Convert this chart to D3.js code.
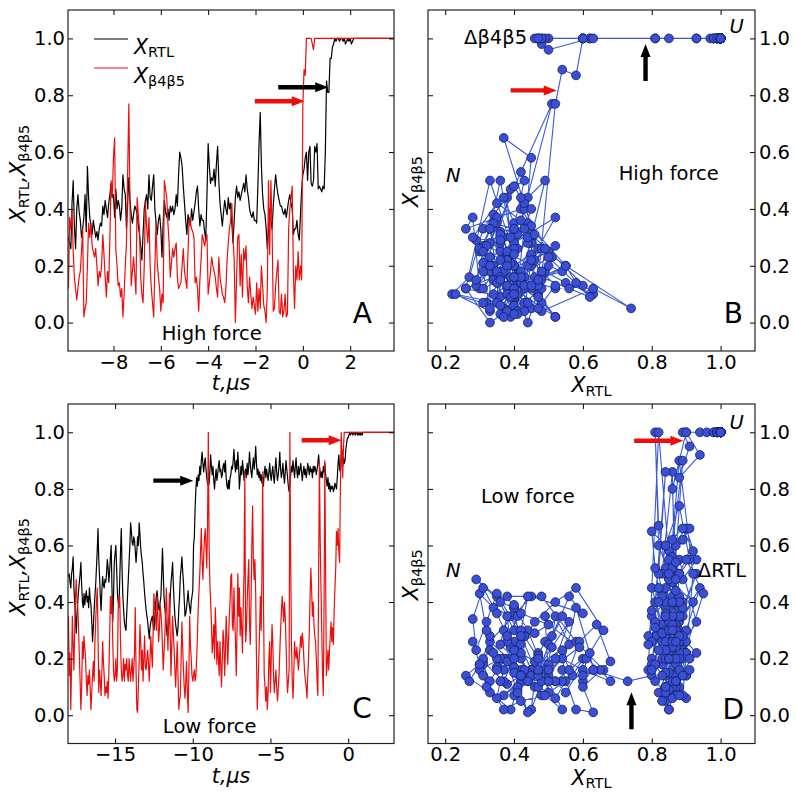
<!DOCTYPE html>
<html><head><meta charset="utf-8">
<script src="https://cdn.jsdelivr.net/npm/d3@7"></script>
<style>body{margin:0;background:#fff}svg{display:block}</style>
</head><body><svg id="c" width="796" height="792"></svg>
<script>
// ---------------- data ----------------
const dt = 0.05;
const tStartHigh = -9.9;   // high-force trajectory (panels A,B)
const tStartLow = -18.0;   // low-force trajectory (panels C,D)

const rtlHigh = [
.30,.28,.26,.42,.50,.34,.26,.40,.45,.39,.36,.30,.33,.37,.45,.32,.55,.44,.37,.34,
.31,.36,.33,.30,.32,.29,.33,.35,.34,.41,.38,.43,.40,.37,.42,.45,.49,.44,.45,.37,
.47,.40,.43,.41,.36,.40,.52,.47,.45,.33,.42,.51,.43,.38,.35,.38,.41,.40,.38,.34,
.31,.27,.22,.31,.40,.43,.45,.40,.52,.44,.43,.48,.52,.40,.35,.31,.36,.38,.33,.23,
.35,.43,.39,.37,.40,.36,.41,.39,.41,.38,.40,.45,.41,.52,.60,.58,.55,.48,.42,.36,
.31,.38,.35,.34,.40,.36,.39,.42,.46,.48,.40,.34,.38,.36,.36,.32,.29,.45,.63,.55,
.49,.51,.50,.54,.48,.56,.62,.50,.42,.38,.34,.39,.43,.40,.38,.44,.40,.42,.35,.28,
.36,.44,.48,.44,.46,.43,.45,.47,.49,.46,.52,.47,.44,.40,.38,.37,.39,.36,.36,.35,
.48,.63,.74,.55,.45,.40,.38,.33,.26,.33,.40,.36,.33,.41,.47,.52,.48,.45,.43,.41,
.41,.39,.38,.40,.37,.40,.43,.45,.42,.40,.31,.33,.33,.36,.31,.29,.38,.47,
.52,.54,.58,.60,.50,.60,.62,.49,.48,.50,.62,.60,.63,.47,.48,.47,.46,.48,.47,.60,
.85,.81,.81,.93,.93,.97,.98,1,.99,1,1,.99,1,1,.99,1,.98,.99,1,.99,
1,.98,.99,1,1,1,1,1,1,1,1,1,1,1,1,1,1,1,1,1,
1,1,1,1,1,1,1,1,1,1,1,1,1,1,1,1,1,1
];
const b45High = [
.12,.37,.33,.40,.25,.16,.12,.08,.12,.16,.18,.25,.33,.02,.05,.07,.20,.35,.30,.35,
.27,.25,.23,.26,.20,.13,.18,.16,.20,.31,.24,.16,.09,.18,.14,.30,.50,.44,.58,.65,
.26,.20,.13,.14,.09,.12,.02,.10,.20,.28,.53,.77,.40,.13,.18,.23,.17,.10,.44,.38,
.33,.16,.10,.07,.20,.42,.34,.28,.37,.20,.12,.07,.02,.20,.35,.21,.16,.12,.04,.10,
.07,.50,.47,.44,.35,.28,.16,.21,.26,.23,.26,.28,.16,.12,.13,.14,.20,.26,.18,.15,
.12,.25,.37,.35,.33,.32,.30,.14,.16,.12,.04,.15,.22,.31,.29,.27,.29,.31,.10,.14,
.18,.23,.20,.18,.16,.12,.09,.23,.16,.13,.10,.09,.07,.12,.22,.28,.33,.36,.42,.30,
.22,.00,.15,.30,.31,.13,.24,.09,.26,.22,.27,.13,.07,.16,.10,.05,.09,.06,.03,.14,
.04,.12,.05,.20,.13,.06,.04,.00,.12,.50,.24,.50,.33,.04,.05,.13,.18,.22,.04,.03,
.10,.02,.04,.10,.02,.03,.33,.40,.44,.48,.18,.05,.20,.15,.25,.15,.20,.15,
.77,.89,.87,1,1,1,1,1,.98,.96,1,1,1,1,1,1,1,1,1,1,
1,1,1,1,1,1,1,1,1,1,1,1,1,1,1,1,1,1,1,1,
1,1,1,1,1,1,1,1,1,1,1,1,1,1,1,1,1,1,1,1,
1,1,1,1,1,1,1,1,1,1,1,1,1,1,1,1,1,1
];
const rtlLow = [
.49,.50,.47,.45,.50,.52,.56,.45,.40,.35,.29,.36,.40,.44,.47,.50,.54,.46,.40,.38,
.43,.39,.42,.44,.40,.42,.38,.45,.41,.39,.33,.26,.31,.37,.42,.46,.52,.58,.66,.55,
.49,.42,.37,.44,.49,.46,.45,.48,.47,.50,.55,.52,.47,.51,.56,.60,.45,.33,.42,.54,
.57,.60,.52,.43,.40,.38,.48,.58,.66,.52,.42,.37,.33,.31,.30,.36,.42,.48,.54,.60,
.68,.65,.61,.60,.63,.62,.58,.54,.58,.63,.60,.68,.64,.59,.56,.54,.50,.47,.43,.40,
.37,.35,.33,.30,.27,.31,.33,.34,.35,.32,.30,.34,.39,.42,.44,.41,.38,.37,.40,.42,
.50,.59,.50,.42,.38,.35,.31,.28,.29,.32,.35,.42,.47,.50,.54,.46,.40,.35,.32,.30,
.28,.31,.37,.42,.49,.52,.56,.51,.47,.41,.35,.36,.38,.41,.44,.40,.38,.36,.40,.42,
.44,.60,.63,.73,.80,.84,.81,.85,.83,.88,.85,.90,.93,.89,.86,.89,.91,.87,.84,.82,
.81,.82,.86,.92,.88,.85,.88,.83,.80,.84,.87,.83,.85,.88,.90,.86,.87,.84,.85,.88,
.89,.86,.90,.84,.81,.80,.83,.80,.84,.85,.88,.87,.90,.94,.89,.86,.90,.87,.93,.88,
.80,.84,.88,.85,.90,.87,.83,.86,.87,.84,.89,.85,.88,.93,.89,.86,.84,.88,.91,.87,
.90,.95,.89,.85,.87,.84,.86,.83,.85,.82,.84,.81,.86,.88,.84,.87,.85,.83,.86,.89,
.85,.83,.86,.88,.84,.82,.87,.91,.86,.83,.85,.88,.93,.87,.84,.86,.89,.85,.82,.86,
.90,.87,.84,.81,.79,.82,.85,.88,.86,.90,.87,.84,.88,.91,.86,.84,.88,.85,.87,.89,
.86,.83,.86,.88,.85,.87,.84,.86,.89,.87,.85,.88,.86,.87,.84,.88,.86,.88,.87,.85,
.87,.89,.92,.88,.86,.84,.86,.84,.88,.86,.89,.85,.83,.81,.84,.80,.82,.79,.81,.80,
.81,.79,.80,.82,.81,.80,.84,.89,.92,.87,.86,.90,.94,.88,.91,.89,.90,.94,.96,.98,
.98,.99,1,.99,1,1,.99,1,1,.99,1,1,.99,1,.99,1,.99,1,.99,1,
1,1,1,1,1,1,1,1,1,1,1,1,1,1,1,1,1,1,1,1,
1,1,1,1,1,1,1,1,1,1,1,1,1,1,1,1,1,1,1,1
];
const b45Low = [
.35,.14,.22,.02,.18,.35,.25,.16,.30,.42,.48,.40,.38,.30,.21,.12,.02,.10,.26,.20,
.28,.24,.20,.12,.07,.14,.11,.16,.09,.02,.08,.14,.19,.12,.25,.33,.40,.45,.30,.08,
.16,.12,.07,.15,.26,.19,.14,.07,.10,.08,.12,.06,.15,.28,.42,.36,.42,.26,.16,.12,
.14,.20,.12,.16,.38,.42,.42,.26,.16,.12,.14,.20,.12,.18,.16,.20,.14,.12,.20,.16,
.12,.16,.20,.12,.16,.22,.38,.16,.02,.01,.10,.19,.32,.26,.16,.23,.12,.20,.28,.17,
.16,.20,.23,.18,.12,.20,.28,.22,.17,.30,.43,.38,.35,.30,.42,.35,.26,.30,.39,.36,
.32,.24,.16,.22,.28,.36,.45,.34,.23,.33,.43,.28,.14,.25,.35,.29,.23,.16,.10,.18,
.26,.14,.02,.05,.07,.20,.33,.24,.16,.10,.06,.12,.19,.08,.01,.15,.35,.25,.20,.14,
.12,.14,.16,.12,.14,.20,.28,.38,.44,.50,.58,.66,.55,.48,.56,.62,.66,.60,.52,.67,
1,.60,.47,.40,.33,.22,.26,.32,.20,.38,.30,.18,.26,.20,.14,.26,.18,.10,.20,.30,
.26,.14,.22,.35,.28,.18,.26,.35,.40,.49,.50,.32,.30,.45,.35,.26,.14,.30,.50,.35,
.45,.28,.38,.30,.22,.40,.50,.86,.26,.30,.40,.48,.55,.33,.25,.40,.60,.74,.55,.48,
.55,.43,.20,.02,.10,.20,.30,.42,.30,.50,.86,.40,.14,.10,.05,.10,.02,.08,.20,.26,
.08,.20,.32,.26,.14,.08,.12,.16,.10,.05,.09,.14,.22,.30,.36,.42,.38,.33,.40,.35,
.26,.15,.08,.12,.16,1,.55,.26,.12,.06,.14,.26,.22,.20,.24,.20,.16,.20,.24,.28,
.24,.29,.26,.20,.15,.12,.10,.06,.14,.20,.30,.42,.52,.44,.35,.40,.32,.28,.26,.20,
.12,.07,.50,.90,.62,.45,.30,.15,.07,.40,.90,.50,.14,.18,.23,.16,.23,.28,.33,.26,
.31,.25,.37,.45,.52,.65,.60,.66,.58,.54,.80,1,.92,.84,.95,1,1,1,1,1,
1,1,1,1,1,1,1,1,1,1,1,1,1,1,1,1,1,1,1,1,
1,1,1,1,1,1,1,1,1,1,1,1,1,1,1,1,1,1,1,1,
1,1,1,1,1,1,1,1,1,1,1,1,1,1,1,1,1,1,1,1
];

const tTicksHigh = [-8,-6,-4,-2,0,2];
const tTicksLow = [-15,-10,-5,0];
const xTicksScatter = [0.2,0.4,0.6,0.8,1.0];
const yTicks = [0,0.2,0.4,0.6,0.8,1.0];

// annotation arrows (data coordinates of each panel)
const arrowsA = [{x1:-2.03,y1:0.779,x2:0.08,y2:0.779,c:"red"},{x1:-1.04,y1:0.828,x2:1.07,y2:0.828,c:"black"}];
const arrowsB = [{x1:0.39,y1:0.817,x2:0.524,y2:0.817,c:"red"},{x1:0.782,y1:0.85,x2:0.782,y2:0.98,c:"black"}];
const arrowsC = [{x1:-12.54,y1:0.829,x2:-9.97,y2:0.829,c:"black"},{x1:-2.99,y1:0.972,x2:-0.42,y2:0.972,c:"red"}];
const arrowsD = [{x1:0.749,y1:0.97,x2:0.892,y2:0.97,c:"red"},{x1:0.741,y1:-0.05,x2:0.741,y2:0.081,c:"black"}];

// ---------------- layout ----------------
const FONT = '"DejaVu Sans", sans-serif';
const TICKFS = 19.5, LABFS = 20.5, SUBFS = 14.5;
const RED = "#ee0d0d", BLUE_F = "#3b4fd6", BLUE_L = "#3a5ad9", BLUE_E = "#14205a";
const P = {
  A:{l:68,r:394,t:10,b:351},
  B:{l:428,r:755,t:10,b:351},
  C:{l:68,r:394,t:404,b:743.5},
  D:{l:428,r:755,t:404,b:743.5}
};
const svg = d3.select("#c");
const xA = d3.scaleLinear([-9.92,3.85],[P.A.l,P.A.r]);
const xC = d3.scaleLinear([-18.03,2.95],[P.C.l,P.C.r]);
const xB = d3.scaleLinear([0.15,1.1],[P.B.l,P.B.r]);
const xD = d3.scaleLinear([0.15,1.1],[P.D.l,P.D.r]);
const yT = d3.scaleLinear([-0.1,1.1],[P.A.b,P.A.t]);
const yL = d3.scaleLinear([-0.1,1.1],[P.C.b,P.C.t]);

const timesHigh = rtlHigh.map((_,i)=>tStartHigh+i*dt);
const timesLow = rtlLow.map((_,i)=>tStartLow+i*dt);

function styleAxis(g){
  g.select(".domain").remove();
  g.selectAll("line").attr("stroke","#000").attr("stroke-width",1);
  g.selectAll("text").attr("font-family",FONT).attr("font-size",TICKFS).attr("fill","#000");
  g.attr("font-family",FONT).attr("font-size",TICKFS);
}
function frame(p, x, y, xt, xfmt, ySide){
  const g = svg.append("g");
  g.append("g").attr("transform",`translate(0,${p.b})`)
    .call(d3.axisBottom(x).tickValues(xt).tickFormat(xfmt).tickSizeInner(-5).tickSizeOuter(0).tickPadding(4)).call(styleAxis);
  g.append("g").attr("transform",`translate(0,${p.t})`)
    .call(d3.axisTop(x).tickValues(xt).tickFormat("").tickSizeInner(-5).tickSizeOuter(0)).call(styleAxis);
  const yf = d3.format(".1f");
  g.append("g").attr("transform",`translate(${p.l},0)`)
    .call(d3.axisLeft(y).tickValues(yTicks).tickFormat(ySide==="left"?yf:"").tickSizeInner(-5).tickSizeOuter(0).tickPadding(3)).call(styleAxis);
  g.append("g").attr("transform",`translate(${p.r},0)`)
    .call(d3.axisRight(y).tickValues(yTicks).tickFormat(ySide==="right"?yf:"").tickSizeInner(-5).tickSizeOuter(0).tickPadding(4)).call(styleAxis);
  g.append("rect").attr("x",p.l).attr("y",p.t).attr("width",p.r-p.l).attr("height",p.b-p.t)
    .attr("fill","none").attr("stroke","#222").attr("stroke-width",1.2);
}
function clip(id,p){
  svg.append("clipPath").attr("id",id).append("rect").attr("x",p.l).attr("y",p.t).attr("width",p.r-p.l).attr("height",p.b-p.t);
}
function rich(x, y, parts, opts={}){
  const t = svg.append("text").attr("x",x).attr("y",y).attr("font-family",FONT).attr("fill","#000");
  if(opts.anchor) t.attr("text-anchor",opts.anchor);
  if(opts.rotate) t.attr("transform",`rotate(-90,${x},${y})`);
  let shift = 0;
  parts.forEach(pt=>{
    const s = t.append("tspan").text(pt.t).attr("font-size", pt.sub?SUBFS:(pt.size||LABFS));
    if(pt.it) s.attr("font-style","italic");
    const target = pt.sub?3.5:0;
    if(target!==shift){ s.attr("dy",target-shift); shift=target; }
  });
  return t;
}
function arrow(a, x, y){
  const x1=x(a.x1), y1=y(a.y1), x2=x(a.x2), y2=y(a.y2);
  const L=Math.hypot(x2-x1,y2-y1), ux=(x2-x1)/L, uy=(y2-y1)/L, nx=-uy, ny=ux;
  const hs=2.2, hh=5, hl=13;
  const bx=x2-ux*hl, by=y2-uy*hl;
  const pts=[[x1+nx*hs,y1+ny*hs],[bx+nx*hs,by+ny*hs],[bx+nx*hh,by+ny*hh],[x2,y2],
             [bx-nx*hh,by-ny*hh],[bx-nx*hs,by-ny*hs],[x1-nx*hs,y1-ny*hs]];
  svg.append("polygon").attr("points",pts.map(p=>p.join(",")).join(" "))
    .attr("fill",a.c==="red"?RED:"#000");
}

const RTL = [{t:"X",it:true},{t:"RTL",sub:true}];
const B45 = [{t:"X",it:true},{t:"β4β5",sub:true}];

// ---------------- time-series panels ----------------
function timePanel(id, p, x, y, times, rtl, b45){
  clip("clip"+id,p);
  const g = svg.append("g").attr("clip-path",`url(#clip${id})`);
  const line = (vals)=>d3.line().x((d,i)=>x(times[i])).y(d=>y(d))(vals);
  g.append("path").attr("d",line(rtl)).attr("fill","none").attr("stroke","#000").attr("stroke-width",1.2).attr("stroke-linejoin","round");
  g.append("path").attr("d",line(b45)).attr("fill","none").attr("stroke",RED).attr("stroke-width",1.2).attr("stroke-linejoin","round");
}
timePanel("A",P.A,xA,yT,timesHigh,rtlHigh,b45High);
timePanel("C",P.C,xC,yL,timesLow,rtlLow,b45Low);

// ---------------- scatter panels ----------------
function scatterPanel(id, p, x, y, rtl, b45){
  clip("clip"+id,p);
  const g = svg.append("g").attr("clip-path",`url(#clip${id})`);
  const pts = rtl.map((v,i)=>[v,b45[i]]);
  g.append("path").attr("d",d3.line().x(d=>x(d[0])).y(d=>y(d[1]))(pts))
    .attr("fill","none").attr("stroke",BLUE_L).attr("stroke-width",1.1).attr("stroke-linejoin","round");
  g.selectAll("circle").data(pts).join("circle")
    .attr("cx",d=>x(d[0])).attr("cy",d=>y(d[1])).attr("r",4.4)
    .attr("fill",BLUE_F).attr("stroke",BLUE_E).attr("stroke-width",0.8);
}
scatterPanel("B",P.B,xB,yT,rtlHigh,b45High);
scatterPanel("D",P.D,xD,yL,rtlLow,b45Low);

// ---------------- frames / axes ----------------
const fmtT = d3.format("d");
const fmtX = d3.format(".1f");
frame(P.A,xA,yT,tTicksHigh,fmtT,"left");
frame(P.C,xC,yL,tTicksLow,fmtT,"left");
frame(P.B,xB,yT,xTicksScatter,fmtX,"right");
frame(P.D,xD,yL,xTicksScatter,fmtX,"right");

// arrows
arrowsA.forEach(a=>arrow(a,xA,yT));
arrowsB.forEach(a=>arrow(a,xB,yT));
arrowsC.forEach(a=>arrow(a,xC,yL));
arrowsD.forEach(a=>arrow(a,xD,yL));

// axis labels
[[P.A],[P.C]].forEach(([p])=>{
  rich(25,(p.t+p.b)/2-7,[{t:"X",it:true},{t:"RTL",sub:true},{t:",",it:true},{t:"X",it:true},{t:"β4β5",sub:true}],{anchor:"middle",rotate:true});
  rich((p.l+p.r)/2,p.b+39,[{t:"t,μs",it:true}],{anchor:"middle"});
});
[[P.B],[P.D]].forEach(([p])=>{
  rich(418,(p.t+p.b)/2+1,B45,{anchor:"middle",rotate:true});
  rich((p.l+p.r)/2,p.b+41,RTL,{anchor:"middle"});
});

// legend (panel A)
const legY = [P.A.t+29, P.A.t+58];
svg.append("line").attr("x1",P.A.l+26).attr("x2",P.A.l+60).attr("y1",legY[0]).attr("y2",legY[0]).attr("stroke","#000").attr("stroke-width",1.2);
svg.append("line").attr("x1",P.A.l+26).attr("x2",P.A.l+60).attr("y1",legY[1]).attr("y2",legY[1]).attr("stroke",RED).attr("stroke-width",1.2);
rich(P.A.l+66,legY[0]+14.5,RTL);
rich(P.A.l+66,legY[1]+14.5,B45);

// text annotations
function note(x,y,str,opts={}){
  const t=svg.append("text").attr("x",x).attr("y",y).text(str).attr("font-family",FONT)
    .attr("font-size",opts.size||TICKFS).attr("fill","#000");
  if(opts.anchor) t.attr("text-anchor",opts.anchor);
  if(opts.it) t.attr("font-style","italic");
}
note(xA(-3.85),yT(-0.06),"High force",{anchor:"middle"});
note(xA(2.92),yT(0.0),"A",{anchor:"end",size:28});
note(xC(-8.91),yL(-0.062),"Low force",{anchor:"middle"});
note(xC(1.53),yL(-0.01),"C",{anchor:"end",size:28});

note(xB(0.438),yT(0.98),"Δβ4β5",{anchor:"end"});
note(xB(1.026),yT(1.019),"U",{it:true});
note(xB(0.202),yT(0.495),"N",{it:true});
note(xB(0.704),yT(0.502),"High force");
note(xB(1.065),yT(0.0),"B",{anchor:"end",size:28});

note(xD(0.304),yL(0.751),"Low force");
note(xD(0.202),yL(0.49),"N",{it:true});
note(xD(0.934),yL(0.49),"ΔRTL");
note(xD(1.026),yL(1.012),"U",{it:true});
note(xD(1.068),yL(-0.012),"D",{anchor:"end",size:28});
</script>
</body></html>
